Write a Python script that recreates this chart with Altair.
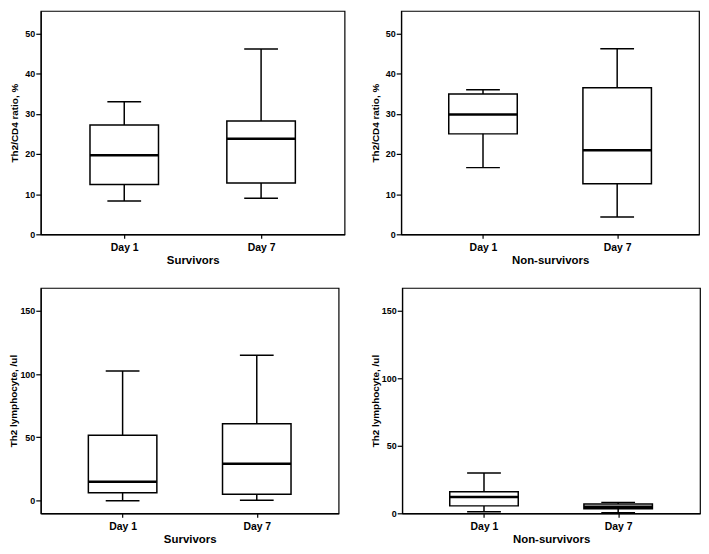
import altair as alt
import pandas as pd

days = ["Day 1", "Day 7"]
stat_names = ["low", "q1", "med", "q3", "high"]

# five-number summaries: [low whisker, Q1, median, Q3, high whisker]
surv_ratio_day1 = [8.3, 12.4, 19.7, 27.2, 33.0]
surv_ratio_day7 = [9.0, 12.8, 23.8, 28.2, 46.1]
nonsurv_ratio_day1 = [16.6, 25.0, 29.8, 34.9, 36.0]
nonsurv_ratio_day7 = [4.3, 12.6, 20.9, 36.5, 46.2]
surv_count_day1 = [0.0, 6.2, 14.9, 51.7, 102.4]
surv_count_day7 = [0.3, 5.1, 29.1, 60.7, 114.8]
nonsurv_count_day1 = [1.2, 5.5, 12.1, 16.0, 29.8]
nonsurv_count_day7 = [0.5, 3.3, 4.8, 6.9, 8.1]

ratio_ticks = [0, 10, 20, 30, 40, 50]
count_ticks = [0, 50, 100, 150]

FONT = "Liberation Sans"


def panel(d1, d7, ytitle, xtitle, domain, ticks, w, h, tpad):
    df = pd.DataFrame({"day": days})
    for i, n in enumerate(stat_names):
        df[n] = [d1[i], d7[i]]
    xenc = alt.X(
        "day:N",
        sort=days,
        scale=alt.Scale(type="point", padding=0.61),
        axis=alt.Axis(
            title=xtitle, labelAngle=0, labelFontSize=10.5, tickSize=4,
            labelPadding=4, titleFontSize=11.5, titlePadding=2,
        ),
    )
    yscale = alt.Scale(domain=domain, nice=False, zero=False)
    yaxis = alt.Axis(
        values=ticks, labelFontSize=9, tickSize=5, labelPadding=1,
        titleFontSize=10, titlePadding=tpad, grid=False,
    )
    base = alt.Chart(df).encode(x=xenc)
    whisk = base.mark_rule(color="black", strokeWidth=1.5).encode(
        y=alt.Y("low:Q", scale=yscale, axis=yaxis, title=ytitle), y2="high:Q"
    )
    box = base.mark_bar(size=69, fill="white", stroke="black", strokeWidth=1.5).encode(
        y=alt.Y("q1:Q", title=ytitle), y2="q3:Q"
    )
    med = base.mark_tick(size=69, thickness=2.5, color="black", opacity=1).encode(
        y=alt.Y("med:Q", title=ytitle)
    )
    caps = base.transform_fold(["low", "high"], as_=["k", "v"]).mark_tick(
        size=34, thickness=1.5, color="black", opacity=1
    ).encode(y=alt.Y("v:Q", title=ytitle))
    return alt.layer(whisk, box, med, caps).properties(width=w, height=h)


p1 = panel(surv_ratio_day1, surv_ratio_day7, "Th2/CD4 ratio, %", "Survivors",
           [0, 55.6], ratio_ticks, 306, 225, 5)
p2 = panel(nonsurv_ratio_day1, nonsurv_ratio_day7, "Th2/CD4 ratio, %", "Non-survivors",
           [0, 55.6], ratio_ticks, 300, 225, 5)
p3 = panel(surv_count_day1, surv_count_day7, "Th2 lymphocyte, /ul", "Survivors",
           [-10, 168], count_ticks, 300, 227, 1)
p4 = panel(nonsurv_count_day1, nonsurv_count_day7, "Th2 lymphocyte, /ul", "Non-survivors",
           [0, 167], count_ticks, 300, 227, 1)

chart = alt.vconcat(
    alt.hconcat(p1, p2, spacing=24),
    alt.hconcat(p3, p4, spacing=30),
    spacing=20,
).properties(
    background="white",
    padding={"left": 0, "top": 0, "right": 0, "bottom": 0},
).configure_view(
    stroke="black", strokeWidth=1.2
).configure_axis(
    domainColor="black", domainWidth=1.2, tickColor="black", tickWidth=1.2,
    labelColor="black", titleColor="black", labelFont=FONT, titleFont=FONT,
    labelFontWeight="bold", titleFontWeight="bold",
)

chart.save("out.html", embed_options={"renderer": "svg", "actions": False})
